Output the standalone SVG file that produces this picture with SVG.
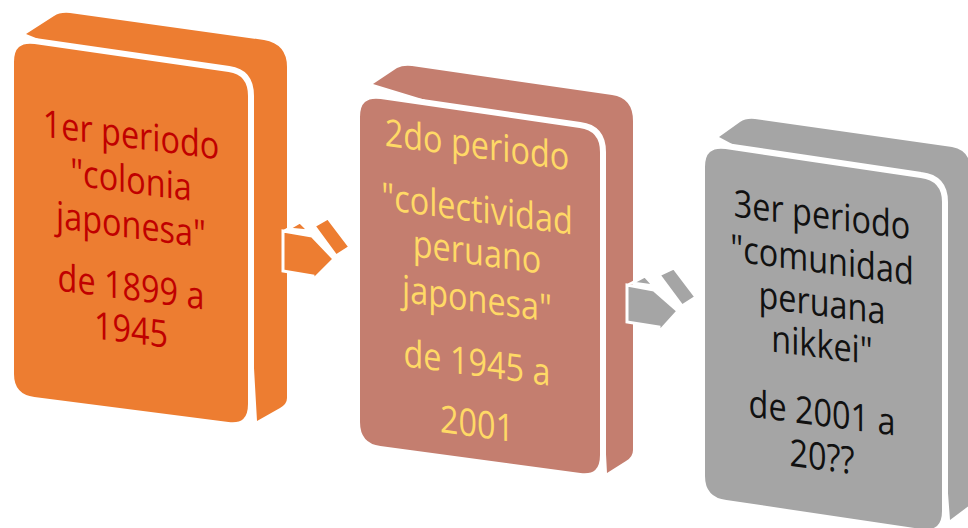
<svg xmlns="http://www.w3.org/2000/svg" width="968" height="528" viewBox="0 0 968 528">
<style>
.o{fill:#ED7D31}
.r{fill:#C47E6F}
.g{fill:#A5A5A5}
.face{stroke:#FFFFFF;stroke-width:6;stroke-linejoin:round}
.arr{stroke:#FFFFFF;stroke-width:3;stroke-linejoin:miter}
text{font-family:"Open Sans","Noto Sans","DejaVu Sans",sans-serif;font-size:36px;text-anchor:middle}
.t1{fill:#C00000}
.t2{fill:#FFD966}
.t3{fill:#111111}
</style>
<rect width="968" height="528" fill="#FFFFFF"/>
<g id="card1">
<path class="o" d="M26,34 L54,16 Q60,12 70,13 L264,40 Q287,44 287,67 L287,398 Q287,404 280,408 L257,421 L240,120 Z"/>
<path class="o face" d="M11,62 Q11,38 35,41 L229,69 Q251,72 251,96 L251,404 Q251,428 228,425 L34,400 Q11,397 11,374 Z"/>
<text class="t1" transform="matrix(0.9,0.117,0,1.05,131,148)">1er periodo</text>
<text class="t1" transform="matrix(0.9,0.117,0,1.05,131,193)">"colonia</text>
<text class="t1" transform="matrix(0.9,0.117,0,1.05,131,238)">japonesa"</text>
<text class="t1" transform="matrix(0.9,0.117,0,1.05,131,300)">de 1899 a</text>
<text class="t1" transform="matrix(0.9,0.117,0,1.05,131,343)">1945</text>
</g>
<g id="card2">
<path class="r" d="M373,84 L397,68 Q403,65 412,66 L612,95 Q633,98 633,121 L633,450 Q633,457 626,461 L607,473 L590,150 Z"/>
<path class="r face" d="M357,117 Q357,93 381,96 L580,125 Q603,128 603,152 L603,455 Q603,479 580,476 L380,449 Q357,446 357,422 Z"/>
<text class="t2" transform="matrix(0.9,0.12,0,1.05,477,158)">2do periodo</text>
<text class="t2" transform="matrix(0.9,0.12,0,1.05,477,222)">"colectividad</text>
<text class="t2" transform="matrix(0.9,0.12,0,1.05,477,265)">peruano</text>
<text class="t2" transform="matrix(0.9,0.12,0,1.05,477,312)">japonesa"</text>
<text class="t2" transform="matrix(0.9,0.12,0,1.05,477,376)">de 1945 a</text>
<text class="t2" transform="matrix(0.9,0.12,0,1.05,477,437)">2001</text>
</g>
<g id="card3">
<path class="g" d="M719,137 L740,122 Q746,118 755,119 L952,147 Q968,150 970,165 L970,505 L950,520 L930,250 Z"/>
<path class="g face" d="M702,167 Q702,143 726,146 L921,175 Q945,178 945,202 L945,511 Q945,535 921,532 L726,503 Q702,500 702,476 Z"/>
<text class="t3" transform="matrix(0.9,0.117,0,1.05,822,228)">3er periodo</text>
<text class="t3" transform="matrix(0.9,0.117,0,1.05,822,273)">"comunidad</text>
<text class="t3" transform="matrix(0.9,0.117,0,1.05,822,316)">peruana</text>
<text class="t3" transform="matrix(0.9,0.117,0,1.05,822,358)">nikkei"</text>
<text class="t3" transform="matrix(0.9,0.117,0,1.05,822,426)">de 2001 a</text>
<text class="t3" transform="matrix(0.9,0.117,0,1.05,822,470)">20??</text>
</g>
<g id="connectors">
<g id="arrow1">
<polygon class="o arr" points="283,231 312,236 334,259 313,280 313,276 283,271"/>
<polygon class="o arr" points="314,226 328,218 350,247 336,256"/>
<polygon class="o arr" points="288,229 300,222 309,231"/>
</g>
<g id="arrow2">
<polygon class="g arr" points="627,285 654,290 678,311 659,332 659,327 627,322"/>
<polygon class="g arr" points="659,275 674,268 696,297 682,306"/>
<polygon class="g arr" points="632,283 645,276 654,286"/>
</g>
</g>
</svg>
